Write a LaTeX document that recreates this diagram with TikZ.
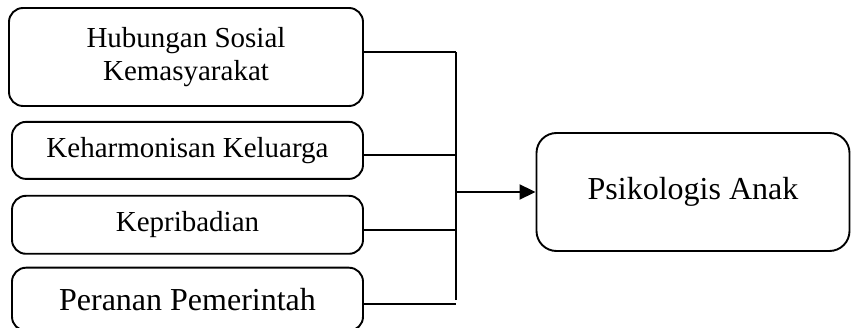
\documentclass[tikz,border=0pt]{standalone}
\usepackage{fontspec}
\setmainfont{Liberation Serif}
\usetikzlibrary{arrows.meta,positioning,calc}

\begin{document}
\begin{tikzpicture}[x=1pt, y=-1pt, line width=1.9pt,
        faktor/.style={draw, rounded corners=14pt, minimum width=351pt, align=center, font=\fontsize{29}{33}\selectfont},
        hasil/.style={draw, rounded corners=20pt, minimum width=313pt, minimum height=118pt, font=\fontsize{32}{36}\selectfont}]
        \useasboundingbox (0,0) rectangle (851,328);

        % Faktor-faktor
        \node[faktor, minimum width=354pt, minimum height=98pt] (sosial) at (186,57) {Hubungan Sosial\\Kemasyarakat};
        \node[faktor, minimum height=57pt, below=14pt of sosial.south east, anchor=north east] (keluarga) {Keharmonisan Keluarga};
        \node[faktor, minimum height=58pt, below=15pt of keluarga.south east, anchor=north east] (pribadi) {Kepribadian};
        \node[faktor, minimum height=63pt, below=12pt of pribadi.south east, anchor=north east, font=\fontsize{32}{36}\selectfont] (pemerintah) {Peranan Pemerintah};

        % Hasil
        \node[hasil] (psikologis) at (693,192) {Psikologis Anak};

        % Garis pengumpul
        \coordinate (atas) at (456,52);
        \coordinate (bawah) at (456,300);
        \coordinate (cabang) at (456,192);
        \draw (atas) -- (bawah);
        \foreach \n/\s in {sosial/5, keluarga/-5, pribadi/-5, pemerintah/-5}
            \draw ([yshift=\s pt]\n.east) -- ([yshift=\s pt]\n.east -| atas);

        % Panah ke hasil
        \draw[-{Triangle[length=16pt, width=15pt]}] (cabang) -- (psikologis.west);
    \end{tikzpicture}
\end{document}
